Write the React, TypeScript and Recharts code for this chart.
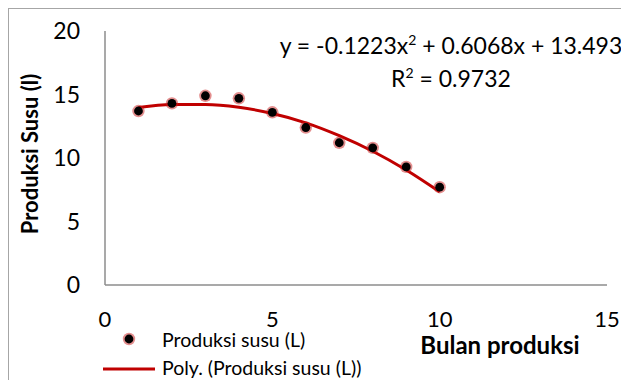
import { ComposedChart, Line, Scatter, XAxis, YAxis } from 'recharts';

// bulan produksi (x) and produksi susu (y)
const months = [1, 2, 3, 4, 5, 6, 7, 8, 9, 10];
const milk = [13.7, 14.3, 14.9, 14.7, 13.6, 12.4, 11.2, 10.8, 9.3, 7.7];
// polynomial trendline as drawn
const polyTrend = [13.98, 14.22, 14.22, 14.0, 13.5, 12.77, 11.76, 10.53, 9.05, 7.33];
const xTicks = [0, 5, 10, 15];
const yTicks = [0, 5, 10, 15, 20];

const data = months.map((m, i) => ({ month: m, milk: milk[i], trend: polyTrend[i] }));

const FONT = 'Lato, "Open Sans", sans-serif';
const RED = '#c00000';
const W = 620;
const H = 371;

const Dot = (props: any) => {
  const { cx, cy } = props;
  return (
    <g>
      <circle cx={cx} cy={cy} r={6.2} fill="rgba(200,30,30,0.5)" />
      <circle cx={cx} cy={cy} r={4.4} fill="#000" />
    </g>
  );
};

const Sup = ({ children }: { children: string }) => (
  <>
    <tspan dy={-9} fontSize={14}>
      {children}
    </tspan>
    <tspan dy={9}> </tspan>
  </>
);

const App = () => {
  return (
    <div
      style={{
        position: 'relative',
        width: W,
        height: H,
        borderLeft: '1px solid #a6a6a6',
        borderTop: '1px solid #a6a6a6',
        fontFamily: FONT,
      }}
    >
      <ComposedChart width={W} height={H} data={data} margin={{ top: 22, right: 22, bottom: 65, left: 0 }}>
        <XAxis
          dataKey="month"
          type="number"
          domain={[0, 15]}
          ticks={xTicks}
          tickLine={false}
          tickSize={0}
          tickMargin={26}
          height={30}
          axisLine={{ stroke: '#8c8c8c', strokeWidth: 1.5 }}
          tick={{ fill: '#000', fontSize: 22, fontFamily: FONT }}
        />
        <YAxis
          type="number"
          domain={[0, 20]}
          ticks={yTicks}
          width={96}
          tickLine={false}
          tickSize={0}
          tickMargin={25}
          axisLine={{ stroke: '#8c8c8c', strokeWidth: 1.5 }}
          tick={{ fill: '#000', fontSize: 23, fontFamily: FONT }}
        />
        <Scatter dataKey="milk" shape={<Dot />} isAnimationActive={false} />
        <Line
          dataKey="trend"
          type="monotone"
          stroke={RED}
          strokeWidth={3}
          dot={false}
          activeDot={false}
          isAnimationActive={false}
        />
      </ComposedChart>

      {/* equation, axis titles and legend */}
      <svg
        width={W}
        height={H}
        style={{ position: 'absolute', left: 0, top: 0, pointerEvents: 'none' }}
        fontFamily={FONT}
      >
        <text x={442} y={45} textAnchor="middle" fontSize={23} fill="#000">
          y = -0.1223x<Sup>2</Sup>+ 0.6068x + 13.493
        </text>
        <text x={442} y={78} textAnchor="middle" fontSize={23} fill="#000">
          R<Sup>2</Sup>= 0.9732
        </text>

        <text
          x={20}
          y={145}
          transform="rotate(-90 20 145)"
          textAnchor="middle"
          dominantBaseline="central"
          fontSize={22}
          fontWeight="bold"
          fill="#000"
        >
          Produksi Susu (l)
        </text>

        <text x={491} y={345} textAnchor="middle" fontSize={24} fontWeight="bold" fill="#000">
          Bulan produksi
        </text>

        <circle cx={120} cy={330} r={6.2} fill="rgba(200,30,30,0.5)" />
        <circle cx={120} cy={330} r={4.4} fill="#000" />
        <text x={153} y={338} fontSize={19.5} fill="#000">
          Produksi susu (L)
        </text>
        <line x1={94} y1={360} x2={146} y2={360} stroke={RED} strokeWidth={3} />
        <text x={153} y={366} fontSize={19.5} fill="#000">
          Poly. (Produksi susu (L))
        </text>
      </svg>
    </div>
  );
};

export default App;
